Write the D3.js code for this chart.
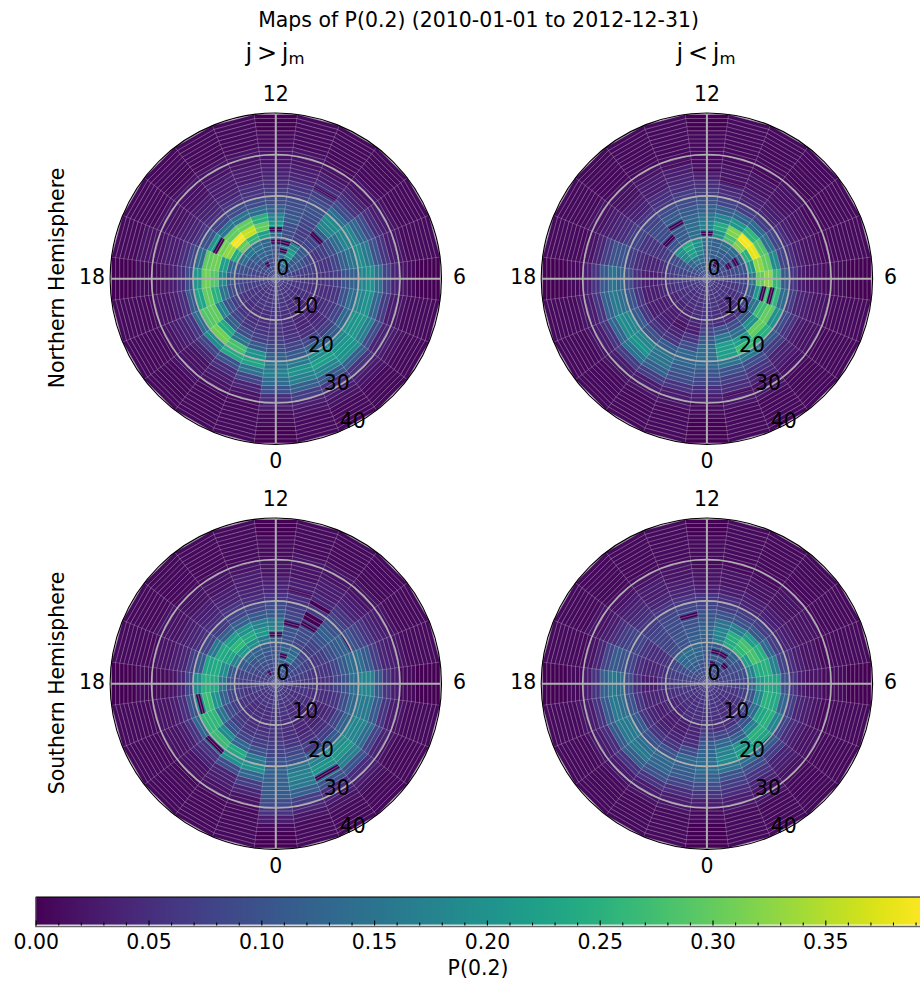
<!DOCTYPE html>
<html><head><meta charset="utf-8">
<script src="https://cdn.jsdelivr.net/npm/d3@7"></script>
<style>html,body{margin:0;padding:0;background:#fff;overflow:hidden}svg{display:block}text{font-family:"DejaVu Sans",sans-serif;fill:#000}</style>
</head><body><svg id="c" width="920" height="981"></svg>
<script>
// P(0.2) in hundredths: one row per magnetic local time hour 0..23, one column per 2 degree colatitude band 0..40
const northGreater = [
[7,7,7,6,6,6,6,7,9,12,15,17,14,10,5,3,1,1,0,0],
[7,7,6,6,5,5,5,6,8,11,16,20,17,12,7,3,2,1,1,1],
[7,6,6,5,5,4,4,5,8,13,19,22,18,11,6,3,2,1,1,1],
[7,6,6,5,4,4,4,5,7,11,18,21,20,12,6,3,2,1,1,1],
[7,6,5,5,5,4,5,6,8,13,20,21,17,9,4,3,2,1,1,1],
[7,7,6,6,5,5,5,6,10,14,18,20,13,7,3,2,1,1,1,1],
[7,7,6,6,6,5,6,7,10,12,18,20,15,8,4,2,1,0,0,0],
[8,8,7,7,7,6,6,8,12,15,19,16,10,6,3,2,1,1,1,1],
[8,9,10,10,8,6,7,9,14,18,18,13,9,5,3,2,1,1,1,1],
[9,10,11,12,11,8,8,11,18,19,14,9,6,4,2,2,1,1,1,1],
[10,13,19,22,17,7,7,8,9,10,9,7,5,3,2,1,1,1,1,1],
[9,11,13,16,15,9,9,11,10,9,7,6,4,3,2,2,1,1,1,1],
[8,8,9,10,11,14,21,18,12,9,7,5,4,3,2,2,1,1,0,0],
[8,9,10,12,13,22,30,25,14,9,6,5,3,3,2,2,1,1,1,1],
[8,9,11,13,15,26,36,30,15,9,6,4,3,3,2,2,1,1,1,1],
[8,9,10,12,16,30,39,30,15,8,5,4,3,2,2,2,1,1,1,1],
[8,8,9,10,14,24,33,31,21,10,6,4,3,2,2,2,1,1,1,1],
[7,7,8,9,10,13,22,31,30,14,8,5,3,3,2,2,2,1,1,1],
[7,7,7,8,8,11,19,29,31,21,9,5,3,2,1,1,1,0,0,0],
[7,7,7,7,8,9,15,25,30,23,11,5,3,2,2,1,1,1,1,1],
[7,7,6,6,6,7,10,18,30,29,14,6,4,3,2,1,1,1,1,1],
[7,6,6,6,5,6,8,12,24,31,19,8,4,2,2,2,1,1,1,1],
[7,6,6,6,5,5,6,9,15,28,24,10,5,3,2,1,1,1,1,1],
[7,6,6,6,5,5,6,7,11,20,23,15,8,4,2,1,1,1,1,1]];
const northLess = [
[7,7,6,6,6,6,8,11,14,14,13,10,8,5,3,1,1,0,0,0],
[7,6,6,6,5,5,10,16,22,22,15,10,7,5,3,2,1,1,1,1],
[7,6,6,5,5,5,9,14,22,27,16,9,6,4,2,2,1,1,1,1],
[7,6,6,5,5,6,11,20,30,25,11,7,4,3,2,1,1,1,1,1],
[7,6,6,5,6,8,15,27,30,20,9,6,3,2,2,1,1,1,1,1],
[7,6,6,6,7,11,21,27,26,14,7,4,3,2,2,1,1,1,1,1],
[7,7,7,8,8,15,30,33,26,11,6,3,2,2,1,1,1,0,0,0],
[8,8,8,9,10,20,33,30,19,8,5,3,2,2,1,1,1,1,1,1],
[8,8,9,10,12,25,38,29,15,8,5,3,2,2,1,1,1,1,1,1],
[9,9,10,11,14,32,39,26,14,7,4,3,2,2,2,1,1,1,1,1],
[9,10,11,11,14,28,32,21,13,7,4,3,2,2,1,1,1,1,1,1],
[10,10,11,12,12,20,24,18,12,8,5,4,2,2,1,1,1,1,1,1],
[10,10,11,12,13,14,17,15,12,10,7,5,3,2,1,1,1,1,0,0],
[10,11,14,18,20,14,14,13,11,9,7,5,4,3,2,1,1,1,1,1],
[10,11,15,22,24,11,11,12,11,9,6,5,3,3,2,1,1,1,1,1],
[9,10,13,19,20,10,9,9,9,8,6,4,3,2,2,1,1,1,1,1],
[8,9,10,10,9,7,6,6,6,8,7,5,4,3,2,2,1,1,1,1],
[8,8,8,8,7,5,4,4,5,7,10,10,7,4,2,1,1,1,1,1],
[7,7,7,7,6,4,3,3,5,9,13,15,11,6,3,1,1,0,0,0],
[7,7,6,6,5,4,3,3,6,10,14,16,12,6,3,2,1,1,1,1],
[7,6,6,5,4,3,3,3,6,11,18,19,13,6,3,2,1,1,1,1],
[7,6,5,5,4,3,3,4,6,10,18,20,15,7,3,2,1,1,1,1],
[7,6,5,5,4,3,2,4,6,11,15,15,12,7,3,2,1,1,1,1],
[7,6,6,5,5,4,3,6,9,13,13,11,9,6,3,2,1,1,1,1]];
const southGreater = [
[7,7,7,6,6,6,6,7,8,10,12,12,12,11,9,6,3,1,0,0],
[7,7,6,6,5,5,5,6,8,10,15,17,16,12,7,4,2,1,1,1],
[7,6,6,5,5,4,4,5,7,11,17,20,16,10,5,3,2,1,1,1],
[7,6,6,5,4,4,4,5,7,11,19,21,17,10,5,3,2,1,1,1],
[7,6,5,5,5,4,4,5,8,12,18,18,14,8,4,2,1,1,1,1],
[7,6,6,6,5,5,5,6,9,13,16,16,11,6,3,2,1,1,1,1],
[7,7,6,6,6,5,6,8,10,14,18,18,11,6,3,1,1,0,0,0],
[7,7,7,7,6,6,6,8,11,14,14,11,7,4,3,2,1,1,1,1],
[8,8,8,8,7,6,7,9,11,12,10,8,6,4,3,2,1,1,1,1],
[8,9,9,10,8,7,8,10,12,10,8,6,4,3,2,2,1,1,1,1],
[9,10,13,15,13,8,9,9,8,7,6,4,3,3,2,2,1,1,1,1],
[9,10,12,13,12,10,10,9,8,7,5,4,3,2,2,2,1,1,1,1],
[8,8,9,10,10,13,18,16,11,9,6,4,3,2,2,1,1,1,0,0],
[8,8,9,10,11,16,21,17,11,8,5,4,3,3,2,1,1,1,1,1],
[8,8,9,11,12,19,24,20,12,8,6,4,3,2,2,1,1,1,1,1],
[8,8,9,10,13,21,26,22,12,7,5,4,3,2,2,1,1,1,1,1],
[7,7,8,9,11,17,23,24,16,8,5,4,3,2,2,2,1,1,1,1],
[7,7,7,8,8,11,19,24,23,11,7,4,3,2,2,1,1,1,1,1],
[7,7,7,7,7,10,16,24,25,19,8,4,2,1,1,1,1,0,0,0],
[7,7,7,6,7,8,12,20,27,20,10,5,3,2,2,1,1,1,1,1],
[7,6,6,6,6,7,9,15,26,26,13,6,3,2,2,1,1,1,1,1],
[7,6,6,5,5,6,7,10,19,27,15,6,4,2,2,1,1,1,1,1],
[7,6,6,5,5,5,6,8,13,24,20,9,4,3,2,1,1,1,1,1],
[7,6,6,5,5,5,6,7,10,16,20,13,7,4,2,1,1,1,1,1]];
const southLess = [
[7,7,6,6,6,6,8,11,13,14,14,12,9,6,3,1,1,0,0,0],
[7,6,6,6,5,5,8,13,17,19,15,10,7,5,3,2,1,1,1,1],
[6,6,6,5,5,5,8,12,20,22,14,9,6,4,2,2,1,1,1,1],
[6,6,5,5,5,6,10,17,25,23,11,7,4,3,2,1,1,1,1,1],
[6,6,6,5,6,8,14,23,25,18,8,5,3,2,2,1,1,1,1,1],
[7,6,6,6,7,10,18,25,24,13,7,4,3,2,1,1,1,1,1,1],
[7,7,7,7,8,13,21,24,23,10,6,3,2,2,1,1,1,0,0,0],
[7,7,8,8,9,17,24,25,17,8,5,3,2,2,1,1,1,1,1,1],
[8,8,8,9,10,22,28,25,13,7,4,3,2,2,2,1,1,1,1,1],
[8,8,9,10,12,26,28,22,11,7,4,3,2,2,2,1,1,1,1,1],
[9,9,10,11,12,24,25,17,10,7,4,3,2,2,1,1,1,1,1,1],
[9,9,10,11,11,17,18,15,10,7,5,3,2,2,1,1,1,1,1,1],
[9,9,10,10,11,12,13,11,10,8,6,3,2,2,1,1,1,1,0,0],
[8,9,10,12,13,12,11,10,9,8,6,4,3,2,2,1,1,1,1,1],
[8,9,11,13,14,10,10,9,9,8,6,4,3,3,2,1,1,1,1,1],
[8,9,11,13,14,9,8,8,8,7,6,5,4,3,2,1,1,1,1,1],
[8,8,9,9,8,6,5,5,6,8,8,7,5,3,2,2,1,1,1,1],
[7,7,8,7,7,5,4,4,5,8,10,11,8,4,2,1,1,1,1,1],
[7,7,7,7,6,5,3,3,5,9,14,16,12,6,3,1,1,0,0,0],
[7,6,6,6,5,4,4,4,6,10,14,16,11,6,3,2,1,1,1,1],
[7,6,6,5,4,4,3,4,6,11,16,16,11,5,3,2,1,1,1,1],
[6,6,5,5,4,3,3,4,6,10,14,16,12,6,3,2,1,1,1,1],
[6,6,5,5,5,3,3,4,6,10,13,13,10,6,3,2,1,1,1,1],
[6,6,6,5,5,4,4,5,9,13,12,11,8,5,3,2,1,1,1,1]];
// cells with P = 0: [hour, colatitude of inner edge, colatitude width]
const zerosNorthGreater = [[12,11.5,1],[12,8.5,1],[11,8.5,1],[11,6.5,1],[14,3.5,1],[9,13.5,1],[10,23.7,.6],[16,15.5,1],[10,9.7,.4]];
const zerosNorthLess = [[12,10.5,1],[14,14.5,1],[15,12.5,1],[8,5.5,1],[8,7.5,1],[10,3.5,1],[5,13.5,1],[5,15.5,1],[13,28.7,.5],[12,26,.5],[11,23.7,.5],[1,28.7,.5]];
const zerosSouthGreater = [[12,11.5,1],[11,6.5,1],[10,4.5,1],[14,2.5,1],[11,14.5,1],[10,15.5,1],[10,17,1],[10,18,1],[10,21,1],[11,22.7,.6],[8,19.7,.4],[19,18.5,1],[21,20.5,1],[2,24.5,1],[2,17.8,.4]];
const zerosSouthLess = [[13,16.5,1],[11,7.5,1],[10,7.5,1],[11,4.5,1],[9,5.5,1],[3,19.8,.4]];
const hemisphereTitles = ["Northern Hemisphere","Southern Hemisphere"];
const hourLabels = [0,6,12,18];
const colatLabels = [0,10,20,30,40];
const colatCircles = [10,20,30];
const cbTicksMajor = [0,0.05,0.10,0.15,0.20,0.25,0.30,0.35];
const cbTicksMinor = [0.01,0.02,0.03,0.04,0.06,0.07,0.08,0.09,0.11,0.12,0.13,0.14,0.16,0.17,0.18,0.19,0.21,0.22,0.23,0.24,0.26,0.27,0.28,0.29,0.31,0.32,0.33,0.34,0.36,0.37,0.38,0.39];

const FS = 20.45;
const vMax = 0.395;
const color = d3.scaleSequential(d3.interpolateViridis).domain([0,vMax]);
const svg = d3.select("#c");
const rScale = d3.scaleLinear().domain([0,40]).range([0,165.7]);
const angle = d3.scaleLinear().domain([0,24]).range([Math.PI,-Math.PI]);
const hours = d3.range(24);
const poly = (h,r0,r1)=>{
  const a0=angle(h-0.5),a1=angle(h+0.5);
  return "M"+[[a0,r0],[a1,r0],[a1,r1],[a0,r1]].map(([a,r])=>d3.pointRadial(a,rScale(r))).join("L")+"Z";
};
const ringSeg = (h,r)=>"M"+d3.pointRadial(angle(h-0.5),rScale(r))+"L"+d3.pointRadial(angle(h+0.5),rScale(r));
const spoke = h=>"M"+d3.pointRadial(angle(h-0.5),rScale(0))+"L"+d3.pointRadial(angle(h-0.5),rScale(40));
const panels = [
 {cx:275.8,cy:278.7,data:northGreater,zeros:zerosNorthGreater},
 {cx:706.9,cy:278.7,data:northLess,zeros:zerosNorthLess},
 {cx:275.8,cy:683.7,data:southGreater,zeros:zerosSouthGreater},
 {cx:706.9,cy:683.7,data:southLess,zeros:zerosSouthLess}];
panels.forEach(p=>{
  const g = svg.append("g").attr("transform",`translate(${p.cx},${p.cy})`);
  const cells=[];
  p.data.forEach((row,h)=>row.forEach((v,k)=>cells.push({h,k,v:v/100})));
  g.append("g").selectAll("path").data(cells).join("path")
    .attr("d",d=>poly(d.h,d.k*2,d.k*2+2))
    .attr("fill",d=>color(d.v)).attr("stroke",d=>color(d.v)).attr("stroke-width",0.5);
  g.append("g").selectAll("path").data(p.zeros).join("path")
    .attr("d",d=>poly(d[0],d[1],d[1]+d[2])).attr("fill",color(0));
  // mesh edges at 1 degree, 1 hour
  g.append("path").attr("d",hours.map(h=>d3.range(1,41).map(r=>ringSeg(h,r)).join("")).join(""))
    .attr("fill","none").attr("stroke","#fff").attr("stroke-opacity",0.38).attr("stroke-width",0.75);
  g.append("path").attr("d",hours.map(spoke).join(""))
    .attr("fill","none").attr("stroke","#fff").attr("stroke-opacity",0.22).attr("stroke-width",0.75);
  // grid
  colatCircles.forEach(r=>g.append("circle").attr("r",rScale(r)).attr("fill","none").attr("stroke","#b0b0b0").attr("stroke-width",1.6));
  hourLabels.forEach(h=>{
    const q=d3.pointRadial(angle(h),rScale(40));
    g.append("line").attr("x1",0).attr("y1",0).attr("x2",q[0]).attr("y2",q[1]).attr("stroke","#b0b0b0").attr("stroke-width",2);
  });
  g.append("circle").attr("r",rScale(40)).attr("fill","none").attr("stroke","#000").attr("stroke-width",1.1);
  // hour labels
  hourLabels.forEach(h=>{
    const q=d3.pointRadial(angle(h),rScale(40)+18);
    g.append("text").attr("x",q[0]).attr("y",q[1]-1.5).attr("text-anchor","middle").attr("dominant-baseline","central").attr("font-size",FS).text(h);
  });
  // radial labels
  colatLabels.forEach(r=>{
    const q=d3.pointRadial(Math.PI*(180-22.5)/180,rScale(r));
    g.append("text").attr("x",q[0]+0.5).attr("y",q[1]-10.5).attr("text-anchor","start").attr("dominant-baseline","central").attr("font-size",FS).text(r);
  });
});
// titles
svg.append("text").attr("x",478.5).attr("y",27).attr("text-anchor","middle").attr("font-size",FS).text("Maps of P(0.2) (2010-01-01 to 2012-12-31)");
[[275,"j\u2009>\u2009j"],[706,"j\u2009<\u2009j"]].forEach(([x,t])=>{
  const tx=svg.append("text").attr("x",x).attr("y",61).attr("text-anchor","middle").attr("font-size",24);
  tx.append("tspan").text(t);
  tx.append("tspan").attr("font-size",16.5).attr("dy",3.3).text("m");
});
[278,683].forEach((y,i)=>{
  svg.append("text").attr("transform",`translate(63.5,${y}) rotate(-90)`).attr("text-anchor","middle").attr("font-size",FS).text(hemisphereTitles[i]);
});
// colorbar
const cbX = d3.scaleLinear().domain([0,vMax]).range([35.7,35.7+vMax*2256]);
const cbTop=897,cbBot=925.5;
const defs=svg.append("defs");
const grad=defs.append("linearGradient").attr("id","vir").attr("x1",0).attr("x2",1).attr("y1",0).attr("y2",0);
d3.range(0,1.0001,1/64).forEach(t=>grad.append("stop").attr("offset",t).attr("stop-color",d3.interpolateViridis(t)));
svg.append("rect").attr("x",cbX(0)).attr("y",cbTop).attr("width",cbX(vMax)-cbX(0)).attr("height",cbBot-0.9-cbTop).attr("fill","url(#vir)");
svg.append("path").attr("d",`M${cbX(0)},${cbTop}H${cbX(vMax)}`).attr("stroke","#000").attr("stroke-width",1.1).attr("fill","none");
svg.append("path").attr("d",`M${cbX(0)},${cbTop}V${cbBot+1}H${cbX(vMax)}`).attr("stroke","#666").attr("stroke-width",1.3).attr("fill","none");
const axMajor=d3.axisBottom(cbX).tickValues(cbTicksMajor).tickFormat(d3.format(".2f")).tickSizeInner(-5).tickPadding(8.5).tickSizeOuter(0);
const axMinor=d3.axisBottom(cbX).tickValues(cbTicksMinor).tickFormat("").tickSizeInner(-3).tickSizeOuter(0);
const ga=svg.append("g").attr("transform",`translate(0,${cbBot})`).call(axMajor);
const gm=svg.append("g").attr("transform",`translate(0,${cbBot})`).call(axMinor);
ga.select(".domain").remove();gm.select(".domain").remove();
ga.selectAll("text").attr("font-size",FS).attr("font-family","DejaVu Sans");
ga.selectAll("line").attr("stroke-width",1.1);gm.selectAll("line").attr("stroke-width",1.1);
svg.append("text").attr("x",478).attr("y",975).attr("text-anchor","middle").attr("font-size",FS).text("P(0.2)");
</script></body></html>
